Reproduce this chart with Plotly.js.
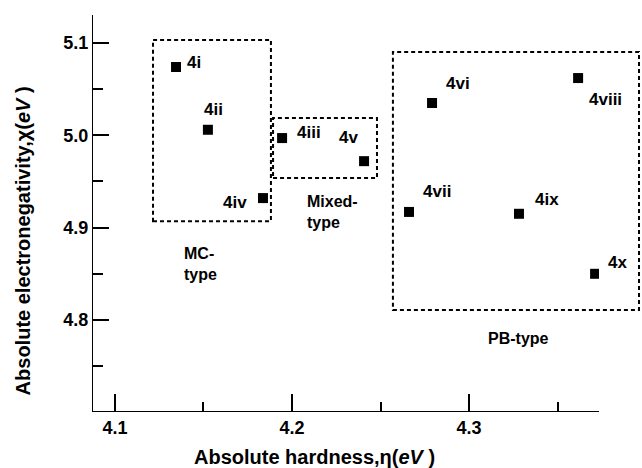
<!DOCTYPE html>
<html>
<head>
<meta charset="utf-8">
<script src="https://cdn.plot.ly/plotly-3.0.1.min.js"></script>
<style>html,body{margin:0;padding:0;background:#fff;}#chart{width:642px;height:468px;}</style>
</head>
<body>
<div id="chart"></div>
<script>
// ---- data ----
const labels = ['4i','4ii','4iii','4iv','4v','4vi','4vii','4viii','4ix','4x'];
const hardness = [4.1345, 4.1525, 4.1944, 4.1836, 4.2407, 4.2791, 4.2661, 4.3616, 4.3282, 4.3712];
const electroneg = [5.074, 5.006, 4.997, 4.932, 4.972, 5.035, 4.917, 5.062, 4.915, 4.850];

// group boxes: [xmin, xmax, ymin, ymax]
const groupNames = ['MC-<br>type', 'Mixed-<br>type', 'PB-type'];
const groupBoxX0 = [4.1215, 4.1893, 4.2570];
const groupBoxX1 = [4.1881, 4.2480, 4.3960];
const groupBoxY0 = [4.907, 4.9538, 4.8108];
const groupBoxY1 = [5.1033, 5.0188, 5.0903];
const groupLabelX = [4.1379, 4.2073, 4.3282];
const groupLabelY = [4.8606, 4.9164, 4.7804];

const xTickStart = 4.1;
const yTickStart = 4.8;
const majorStep = 0.1;
const minorStep = 0.05;

// ---- layout helpers ----
const xRange = [4.0876, 4.3734];
const yRange = [4.7014, 5.1303];
const FONT = 'Liberation Sans, Arial, Helvetica, sans-serif';
const px = v => (v - xRange[0]) / (xRange[1] - xRange[0]);
const py = v => (v - yRange[0]) / (yRange[1] - yRange[0]);

// label offsets in pixels (x right, y up)
const labelShift = [[18,4],[6,20],[27,6],[-28,-4],[-16,24],[26,19],[28,20],[27,-21],[28,14],[22,11]];

const annotations = labels.map((t, i) => ({
  x: hardness[i], y: electroneg[i], xref: 'x', yref: 'y', text: '<b>' + t + '</b>', showarrow: false,
  xshift: labelShift[i][0], yshift: labelShift[i][1],
  font: {family: FONT, size: 17, color: '#000'}
}));
groupNames.forEach((g, i) => {
  annotations.push({
    x: groupLabelX[i], y: groupLabelY[i], xref: 'x', yref: 'y', text: '<b>' + g.replace('<br>', '</b><br><b>') + '</b>', showarrow: false,
    xanchor: i === 2 ? 'center' : 'left', align: 'left',
    font: {family: FONT, size: 16, color: '#000'}
  });
});
annotations.push({
  x: px(4.2) + 0.045, y: -0.115, xref: 'paper', yref: 'paper', showarrow: false,
  text: '<b>Absolute hardness,η(<i>eV</i> )</b>', yanchor: 'middle',
  font: {family: FONT, size: 20, color: '#000'}
});
annotations.push({
  x: -0.139, y: 0.43, xref: 'paper', yref: 'paper', showarrow: false, textangle: -90,
  text: '<b>Absolute electronegativity,χ(<i>eV</i> )</b>', xanchor: 'center',
  font: {family: FONT, size: 20, color: '#000'}
});

const shapes = groupNames.map((g, i) => ({
  type: 'rect', xref: 'paper', yref: 'paper',
  x0: px(groupBoxX0[i]), x1: px(groupBoxX1[i]), y0: py(groupBoxY0[i]), y1: py(groupBoxY1[i]),
  line: {color: '#000', width: 2, dash: '4px,3px'}
}));

const trace = {
  type: 'scatter', mode: 'markers', x: hardness, y: electroneg,
  marker: {symbol: 'square', size: 10, color: '#000'}, hoverinfo: 'skip'
};

const layout = {
  width: 642, height: 468,
  margin: {l: 93, r: 43, t: 15, b: 57},
  showlegend: false,
  xaxis: {
    range: xRange, tickmode: 'linear', tick0: xTickStart, dtick: majorStep, tickformat: '.1f',
    ticks: 'inside', ticklen: 17, tickwidth: 2, tickcolor: '#000',
    showline: true, linecolor: '#000', showgrid: false, zeroline: false,
    tickfont: {family: FONT, size: 18, color: '#000', weight: 'bold'},
    minor: {dtick: minorStep, ticks: 'inside', ticklen: 9, tickwidth: 2, tickcolor: '#000'}
  },
  yaxis: {
    range: yRange, tickmode: 'linear', tick0: yTickStart, dtick: majorStep, tickformat: '.1f',
    ticks: 'inside', ticklen: 16, tickwidth: 2, tickcolor: '#000',
    showline: true, linecolor: '#000', showgrid: false, zeroline: false,
    tickfont: {family: FONT, size: 18, color: '#000', weight: 'bold'},
    minor: {dtick: minorStep, ticks: 'inside', ticklen: 10, tickwidth: 2, tickcolor: '#000'}
  },
  shapes: shapes,
  annotations: annotations
};

Plotly.newPlot('chart', [trace], layout, {displayModeBar: false, staticPlot: true});
</script>
</body>
</html>
